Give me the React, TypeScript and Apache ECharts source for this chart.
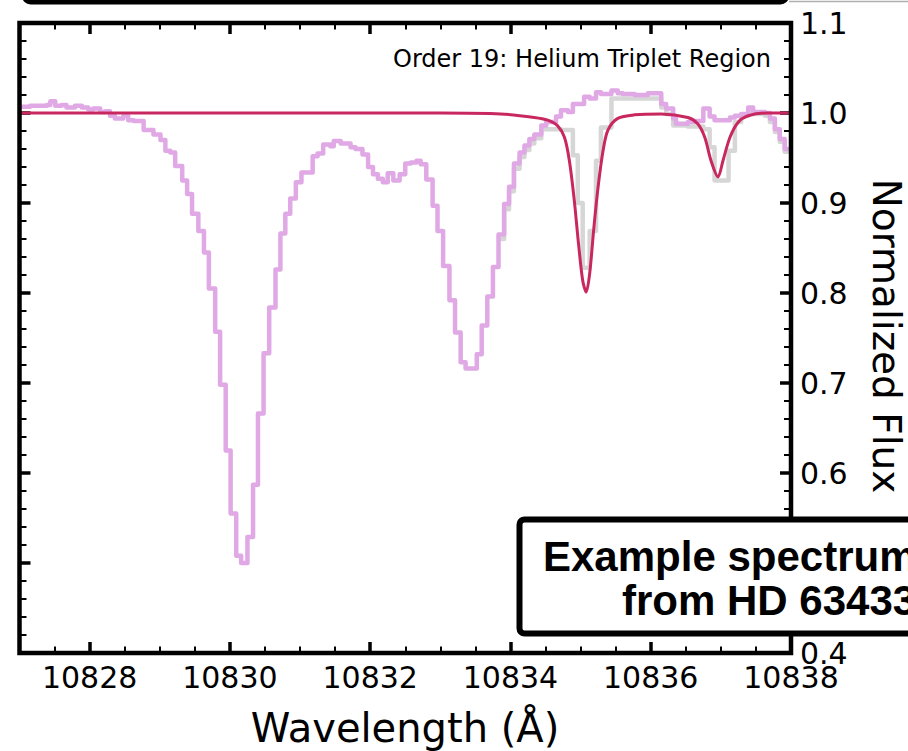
import React, { useEffect, useRef } from "react";
import * as echarts from "echarts";

// ---- Data ----
// Left edges of the spectrum bins (Å) and the telluric-corrected flux (purple step line)
const purpleWave = [
  10827.0, 10827.15, 10827.39, 10827.44, 10827.51, 10827.6, 10827.67, 10827.79, 10827.89, 10827.98,
  10828.05, 10828.15, 10828.22, 10828.29, 10828.36, 10828.48, 10828.55, 10828.63, 10828.77, 10828.91,
  10829.01, 10829.08, 10829.15, 10829.22, 10829.32, 10829.39, 10829.46, 10829.55, 10829.63, 10829.7,
  10829.79, 10829.86, 10829.94, 10830.01, 10830.09, 10830.16, 10830.25, 10830.33, 10830.4, 10830.48,
  10830.56, 10830.65, 10830.72, 10830.79, 10830.86, 10830.94, 10831.02, 10831.18, 10831.25, 10831.33,
  10831.43, 10831.48, 10831.58, 10831.72, 10831.79, 10831.89, 10831.97, 10832.04, 10832.11, 10832.18,
  10832.25, 10832.33, 10832.42, 10832.5, 10832.58, 10832.66, 10832.72, 10832.8, 10832.89, 10832.96,
  10833.04, 10833.13, 10833.21, 10833.29, 10833.36, 10833.52, 10833.59, 10833.67, 10833.75, 10833.83,
  10833.91, 10833.98, 10834.05, 10834.13, 10834.2, 10834.27, 10834.34, 10834.44, 10834.51, 10834.65,
  10834.72, 10834.82, 10834.89, 10835.05, 10835.13, 10835.22, 10835.29, 10835.44, 10835.53, 10835.6,
  10835.77, 10835.96, 10836.15, 10836.22, 10836.32, 10836.36, 10836.53, 10836.63, 10836.75, 10836.84,
  10836.91, 10837.03, 10837.13, 10837.2, 10837.29, 10837.39, 10837.46, 10837.63, 10837.7, 10837.77,
  10837.84, 10837.91, 10838.0,
];
const purpleFlux = [
  1.007, 1.008, 1.009, 1.013, 1.008, 1.009, 1.006, 1.008, 1.006, 1.004,
  1.005, 1.001, 1.002, 0.997, 0.994, 0.997, 0.992, 0.991, 0.981, 0.976,
  0.97, 0.958, 0.956, 0.941, 0.925, 0.91, 0.888, 0.869, 0.845, 0.805,
  0.757, 0.698, 0.625, 0.555, 0.508, 0.5, 0.529, 0.587, 0.666, 0.733,
  0.784, 0.826, 0.866, 0.888, 0.905, 0.923, 0.934, 0.952, 0.955, 0.965,
  0.963, 0.969, 0.966, 0.962, 0.96, 0.954, 0.94, 0.932, 0.927, 0.923,
  0.933, 0.925, 0.932, 0.944, 0.945, 0.947, 0.943, 0.926, 0.897, 0.869,
  0.83, 0.792, 0.756, 0.723, 0.716, 0.732, 0.764, 0.796, 0.829, 0.865,
  0.899, 0.918, 0.944, 0.956, 0.964, 0.971, 0.976, 0.986, 0.99, 0.996,
  1.003, 1.001, 1.01, 1.018, 1.016, 1.023, 1.021, 1.025, 1.022, 1.021,
  1.02, 1.022, 1.01, 1.005, 0.994, 0.988, 0.99, 0.991, 1.005, 0.996,
  0.992, 0.992, 0.995, 0.997, 0.999, 1.006, 1.001, 1.0, 0.994, 0.982,
  0.971, 0.96, 0.96,
];

// Uncorrected observed flux (light gray step line), visible part
const grayWave = [
  10833.83, 10833.91, 10833.98, 10834.05, 10834.13, 10834.2, 10834.27, 10834.34, 10834.44, 10834.65,
  10834.72, 10834.82, 10834.89, 10834.96, 10835.03, 10835.13, 10835.22, 10835.29, 10835.44, 10835.6,
  10835.96, 10836.15, 10836.22, 10836.32, 10836.53, 10836.75, 10836.84, 10836.91, 10837.11, 10837.2,
  10837.29, 10837.39, 10837.46, 10837.63, 10837.7, 10837.77, 10837.84, 10837.91, 10838.0,
];
const grayFlux = [
  0.86, 0.893, 0.913, 0.938, 0.951, 0.959, 0.966, 0.972, 0.982, 0.982,
  0.981, 0.981, 0.953, 0.9, 0.828, 0.869, 0.947, 0.984, 1.016, 1.016,
  1.016, 1.006, 0.999, 0.986, 0.985, 0.982, 0.962, 0.925, 0.958, 0.99,
  0.997, 1.003, 0.999, 0.997, 0.99, 0.979, 0.968, 0.957, 0.957,
];

// Telluric model (crimson smooth line)
const modelWave = [
  10827.0, 10833.0, 10833.86, 10834.34, 10834.53, 10834.67, 10834.77, 10834.84, 10834.91, 10834.97,
  10835.03, 10835.08, 10835.13, 10835.19, 10835.25, 10835.32, 10835.39, 10835.53, 10835.77, 10836.15,
  10836.53, 10836.67, 10836.77, 10836.86, 10836.96, 10837.03, 10837.13, 10837.25, 10837.39, 10837.67,
  10838.0,
];
const modelFlux = [
  1.0, 1.0, 0.999, 0.995, 0.992, 0.986, 0.973, 0.947, 0.903, 0.855,
  0.814, 0.801, 0.822, 0.873, 0.918, 0.958, 0.981, 0.994, 0.998, 0.999,
  0.995, 0.988, 0.973, 0.947, 0.929, 0.947, 0.973, 0.99, 0.997, 1.0,
  1.0,
];

const xTickValues = [10828, 10830, 10832, 10834, 10836, 10838];
const yTickValues = [0.4, 0.5, 0.6, 0.7, 0.8, 0.9, 1.0, 1.1];
const X_MIN = 10827;
const X_MAX = 10838;
const Y_MIN = 0.4;
const Y_MAX = 1.1;

const annotation = "Order 19: Helium Triplet Region";
const boxLine1 = "Example spectrum";
const boxLine2 = "from HD 63433";
const xName = "Wavelength (Å)";
const yName = "Normalized Flux";

function pairs(xs: number[], ys: number[]) {
  return xs.map((x, i) => [x, ys[i]]);
}
function steps(a: number, b: number, step: number) {
  const out: number[] = [];
  const n = Math.round((b - a) / step);
  for (let i = 0; i <= n; i++) out.push(+(a + i * step).toFixed(4));
  return out;
}

export default function App() {
  const ref = useRef<HTMLDivElement>(null);
  useEffect(() => {
    document.body.style.margin = "0";
    const chart = echarts.init(ref.current!, null, { renderer: "svg" });
    const G = { left: 19.5, top: 23, width: 771.5, height: 630 };
    const font = "DejaVu Sans";
    const minorX = steps(X_MIN, X_MAX, 0.5);
    const minorY = steps(Y_MIN, Y_MAX, 0.02);
    const tickMajor = { color: "#000", width: 3.5 };
    const tickMinor = { color: "#000", width: 2 };
    const baseX: any = {
      type: "value", min: X_MIN, max: X_MAX,
      axisLine: { show: false }, splitLine: { show: false },
    };
    const baseY: any = {
      type: "value", min: Y_MIN, max: Y_MAX,
      axisLine: { show: false }, splitLine: { show: false },
    };
    const xAxis = [
      {
        ...baseX, position: "bottom",
        axisTick: { show: true, inside: true, length: 11, customValues: xTickValues, lineStyle: tickMajor },
        axisLabel: {
          show: true, customValues: xTickValues, fontSize: 30, fontFamily: font, color: "#000", margin: 9,
          formatter: (v: number) => String(Math.round(v)),
        },
      },
      {
        ...baseX, position: "bottom",
        axisTick: { show: true, inside: true, length: 6.5, customValues: minorX, lineStyle: tickMinor },
        axisLabel: { show: false },
      },
      {
        ...baseX, position: "top",
        axisTick: { show: true, inside: true, length: 11, customValues: xTickValues, lineStyle: tickMajor },
        axisLabel: { show: false },
      },
      {
        ...baseX, position: "top",
        axisTick: { show: true, inside: true, length: 6.5, customValues: minorX, lineStyle: tickMinor },
        axisLabel: { show: false },
      },
    ];
    const yAxis = [
      {
        ...baseY, position: "right",
        axisTick: { show: true, inside: true, length: 11, customValues: yTickValues, lineStyle: tickMajor },
        axisLabel: {
          show: true, customValues: yTickValues, fontSize: 30, fontFamily: font, color: "#000", margin: 9,
          formatter: (v: number) => v.toFixed(1),
        },
      },
      {
        ...baseY, position: "right",
        axisTick: { show: true, inside: true, length: 7, customValues: minorY, lineStyle: tickMinor },
        axisLabel: { show: false },
      },
      {
        ...baseY, position: "left",
        axisTick: { show: true, inside: true, length: 11, customValues: yTickValues, lineStyle: tickMajor },
        axisLabel: { show: false },
      },
      {
        ...baseY, position: "left",
        axisTick: { show: true, inside: true, length: 7, customValues: minorY, lineStyle: tickMinor },
        axisLabel: { show: false },
      },
    ];

    const option: any = {
      animation: false,
      backgroundColor: "#fff",
      grid: { left: G.left, top: G.top, width: G.width, height: G.height },
      xAxis,
      yAxis,
      series: [
        {
          name: "observed", type: "line", step: "end", data: pairs(grayWave, grayFlux),
          showSymbol: false, symbol: "none", z: 2,
          lineStyle: { color: "#d6d6d6", width: 4.5, join: "round" },
        },
        {
          name: "corrected", type: "line", step: "end", data: pairs(purpleWave, purpleFlux),
          showSymbol: false, symbol: "none", z: 3,
          lineStyle: { color: "#e0a8e4", width: 4.5, join: "round" },
        },
        {
          name: "telluric", type: "line", data: pairs(modelWave, modelFlux), smooth: 0.3,
          showSymbol: false, symbol: "none", z: 4,
          lineStyle: { color: "#c8285f", width: 3, join: "round" },
        },
      ],
      graphic: [
        {
          type: "rect", z: 50,
          shape: { x: G.left, y: G.top, width: G.width, height: G.height },
          style: { fill: "none", stroke: "#000", lineWidth: 4.5 },
        },
        {
          type: "rect", z: 50,
          shape: { x: 24.5, y: -100, width: 762, height: 102, r: 6 },
          style: { fill: "none", stroke: "#000", lineWidth: 5 },
        },
        {
          type: "line", z: 50,
          shape: { x1: 789, y1: 1.5, x2: 908, y2: 1.5 },
          style: { stroke: "#b0b0b0", lineWidth: 1.5 },
        },
        {
          type: "text", z: 60, x: 771, y: 59,
          style: {
            text: annotation, fontSize: 24, fontFamily: font, fill: "#000",
            align: "right", textAlign: "right", verticalAlign: "middle", textVerticalAlign: "middle",
          },
        },
        {
          type: "text", z: 60, x: 405, y: 728,
          style: {
            text: xName, fontSize: 40, fontFamily: font, fill: "#000",
            align: "center", textAlign: "center", verticalAlign: "middle", textVerticalAlign: "middle",
          },
        },
        {
          type: "text", z: 60, x: 886, y: 336, rotation: -Math.PI / 2,
          style: {
            text: yName, fontSize: 39, fontFamily: font, fill: "#000",
            align: "center", textAlign: "center", verticalAlign: "middle", textVerticalAlign: "middle",
          },
        },
        {
          type: "rect", z: 70,
          shape: { x: 519.5, y: 519.5, width: 500, height: 114, r: 5 },
          style: { fill: "#fff", stroke: "#000", lineWidth: 6 },
        },
        {
          type: "text", z: 80, x: 543, y: 556,
          style: {
            text: boxLine1, fontSize: 42, fontWeight: "bold", fontFamily: "Liberation Sans", fill: "#000",
            align: "left", textAlign: "left", verticalAlign: "middle", textVerticalAlign: "middle",
          },
        },
        {
          type: "text", z: 80, x: 622, y: 600,
          style: {
            text: boxLine2, fontSize: 42, fontWeight: "bold", fontFamily: "Liberation Sans", fill: "#000",
            align: "left", textAlign: "left", verticalAlign: "middle", textVerticalAlign: "middle",
          },
        },
      ],
    };
    chart.setOption(option);
    return () => chart.dispose();
  }, []);
  return <div ref={ref} style={{ width: 908, height: 751 }} />;
}
